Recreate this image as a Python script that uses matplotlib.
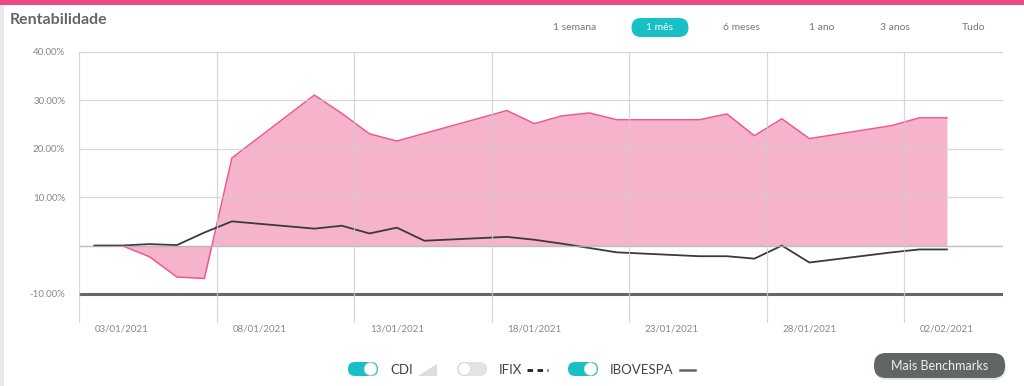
import numpy as np
import matplotlib
matplotlib.use("Agg")
import matplotlib.pyplot as plt
from matplotlib.patches import FancyBboxPatch, Circle, Polygon, Rectangle

plt.rcParams['font.family'] = ['Lato', 'DejaVu Sans']

# days counted from 03/01/2021
cdi_days = [-1, 0, 1, 2, 3, 4, 7, 8, 9, 10, 14, 15, 16, 17, 18, 21, 22, 23, 24, 25, 28, 29, 30]
cdi = [0.0, 0.0, -2.3, -6.5, -6.8, 18.1, 31.1, 27.3, 23.1, 21.6, 27.9, 25.2, 26.8, 27.4,
       26.0, 26.0, 27.2, 22.7, 26.2, 22.1, 24.8, 26.4, 26.4]

ibov_days = [-1, 0, 1, 2, 3, 4, 7, 8, 9, 10, 11, 14, 15, 16, 17, 18, 21, 22, 23, 24, 25, 28, 29, 30]
ibov = [0.0, 0.0, 0.3, 0.1, 2.7, 5.0, 3.5, 4.1, 2.5, 3.7, 1.0, 1.8, 1.2, 0.4, -0.5, -1.4,
        -2.2, -2.2, -2.7, 0.0, -3.5, -1.4, -0.8, -0.8]

tick_days = [0, 5, 10, 15, 20, 25, 30]
tick_labels = ["03/01/2021", "08/01/2021", "13/01/2021", "18/01/2021",
               "23/01/2021", "28/01/2021", "02/02/2021"]
y_ticks = [40, 30, 20, 10, -10]
y_labels = ["40.00%", "30.00%", "20.00%", "10.00%", "-10.00%"]
periods = ["1 semana", "1 mês", "6 meses", "1 ano", "3 anos", "Tudo"]
period_x = [575, 660, 741, 822, 895, 974]

W, H = 1024, 386
fig = plt.figure(figsize=(W / 100, H / 100), dpi=100)
fig.patch.set_facecolor("white")

# overlay in pixel coordinates for the page decorations
bg = fig.add_axes([0, 0, 1, 1], zorder=0)
bg.set_xlim(0, W)
bg.set_ylim(H, 0)
bg.axis("off")

bg.add_patch(Rectangle((0, 0), W, 5, color="#ec4a82", lw=0))
bg.add_patch(Rectangle((0, 5), 4, H, color="#e9e9e9", lw=0))
bg.text(10, 20, "Rentabilidade", fontsize=11.5, fontweight="bold", color="#666666",
        ha="left", va="center")

for lab, x in zip(periods, period_x):
    col = "#777777"
    if lab == "1 mês":
        bg.add_patch(FancyBboxPatch((x - 28.5, 18), 57, 19, boxstyle="round,pad=0,rounding_size=9.5",
                                    fc="#17c0c4", ec="none"))
        col = "white"
    bg.text(x, 28, lab, fontsize=7.5, color=col, ha="center", va="center")


def toggle(x0, on):
    fc = "#17c0c4" if on else "#e3e3e3"
    bg.add_patch(FancyBboxPatch((x0, 362), 30, 14, boxstyle="round,pad=0,rounding_size=7",
                                fc=fc, ec="none"))
    kx = x0 + 22.5 if on else x0 + 7.5
    bg.add_patch(Circle((kx, 369), 6.3, fc="white", ec="#cfcfcf", lw=0.5))


toggle(348, True)
bg.text(390, 370, "CDI", fontsize=9.5, color="#444444", va="center")
bg.add_patch(Polygon([(418, 376), (437, 376), (437, 364)], closed=True, fc="#dddddd", ec="none"))
toggle(457, False)
bg.text(499, 370, "IFIX", fontsize=9.5, color="#444444", va="center")
bg.plot([527, 548], [370, 370], color="#222222", lw=2, ls=(0, (2, 1.6)))
toggle(568, True)
bg.text(610, 370, "IBOVESPA", fontsize=9.5, color="#444444", va="center")
bg.plot([680, 695], [370, 370], color="#666666", lw=1.8)

bg.add_patch(FancyBboxPatch((875, 355), 131, 25, boxstyle="round,pad=0,rounding_size=12",
                            fc="#cfcfcf", ec="none", alpha=0.5))
bg.add_patch(FancyBboxPatch((874, 353), 131, 25, boxstyle="round,pad=0,rounding_size=12",
                            fc="#5f6664", ec="none"))
bg.text(939.5, 365.5, "Mais Benchmarks", fontsize=9, color="#f0f0f0", ha="center", va="center")

# chart area
ax = fig.add_axes([79 / W, 1 - 323 / H, (1003 - 79) / W, (323 - 52) / H], zorder=1)
ax.patch.set_alpha(0)
ax.set_xlim(-1.56, 32.04)
ax.set_ylim(-16, 40)

ax.fill_between(cdi_days, cdi, 0, color="#f4a0c0", alpha=0.8, lw=0, zorder=2)
ax.plot(cdi_days, cdi, color="#ec5a8e", lw=1.1, zorder=3)
ax.plot(ibov_days, ibov, color="#3a3a3a", lw=1.3, zorder=4)

for y in [40, 30, 20, 10]:
    ax.axhline(y, color="#cfcfcf", lw=0.9, alpha=0.8, zorder=5)
ax.axhline(0, color="#b0b0b0", lw=1, alpha=0.8, zorder=5)
ax.axhline(-10, color="#666666", lw=2.2, zorder=5)
for t in tick_days:
    ax.axvline(t - 1.55, color="#cfcfcf", lw=0.9, alpha=0.8, zorder=5)

ax.set_yticks(y_ticks)
ax.set_yticklabels(y_labels)
ax.set_xticks(tick_days)
ax.set_xticklabels(tick_labels)
ax.tick_params(length=0, labelsize=7, labelcolor="#888888")
ax.tick_params(axis="y", pad=10)
ax.tick_params(axis="x", pad=1)
for s in ax.spines.values():
    s.set_visible(False)

fig.savefig("out.png", dpi=100)
